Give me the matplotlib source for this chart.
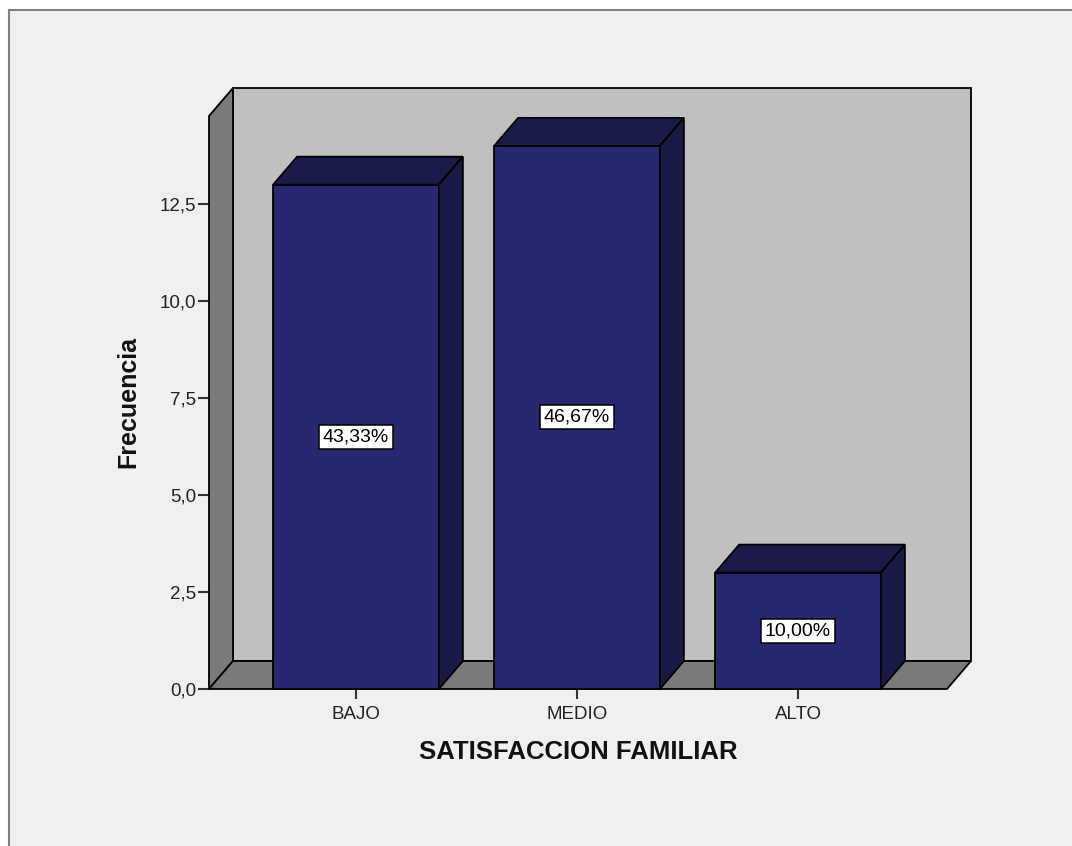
import matplotlib
matplotlib.use("Agg")
import matplotlib.pyplot as plt
from matplotlib.patches import Polygon, Rectangle

# ---- data ----
categories = ['BAJO', 'MEDIO', 'ALTO']
frecuencia = [13, 14, 3]
porcentajes = ['43,33%', '46,67%', '10,00%']
yticks = [0, 2.5, 5, 7.5, 10, 12.5]
ytick_labels = ['0,0', '2,5', '5,0', '7,5', '10,0', '12,5']
xlabel = 'SATISFACCION FAMILIAR'
ylabel = 'Frecuencia'

plt.rcParams['font.family'] = ['Liberation Sans', 'DejaVu Sans']

W, H = 1072, 846
fig = plt.figure(figsize=(W / 100, H / 100), dpi=100)
fig.patch.set_facecolor('white')
fig.patches.append(Rectangle((9 / W, -0.05), 1.2, (H - 10) / H + 0.05,
                             transform=fig.transFigure, facecolor='#F0F0F0',
                             edgecolor='#808080', lw=1.5, zorder=-10))

ax = fig.add_axes([209 / W, (H - 689) / H, 738 / W, 573 / H])
ax.set_zorder(5)
xmin, xmax = -0.665, 2.674
ymax = 14.77
ax.set_xlim(xmin, xmax)
ax.set_ylim(0, ymax)
ax.patch.set_visible(False)
for s in ax.spines.values():
    s.set_visible(False)

# depth offset (pixels) converted to data units
DX_PX, DY_PX = 24, 28
fig.canvas.draw()
inv = ax.transData.inverted()
o = inv.transform(ax.transData.transform((0, 0)))
p = inv.transform(ax.transData.transform((0, 0)) + [DX_PX, DY_PX])
ddx, ddy = p[0] - o[0], p[1] - o[1]

EC = 'black'
LW = 1.3
wall_back = '#C0C0C0'
wall_side = '#7A7A7A'
bar_front = '#272870'
bar_top = '#1B1B4A'
bar_side = '#1A1A47'

def poly(pts, fc, z):
    ax.add_patch(Polygon(pts, closed=True, facecolor=fc, edgecolor=EC,
                         lw=LW, clip_on=False, zorder=z, joinstyle='miter'))

# back wall
poly([(xmin + ddx, ddy), (xmax + ddx, ddy), (xmax + ddx, ymax + ddy),
      (xmin + ddx, ymax + ddy)], wall_back, 1)
# left wall
poly([(xmin, 0), (xmin + ddx, ddy), (xmin + ddx, ymax + ddy), (xmin, ymax)],
     wall_side, 2)
# floor
poly([(xmin, 0), (xmax, 0), (xmax + ddx, ddy), (xmin + ddx, ddy)],
     wall_side, 2)

bw = 0.75
for i, (v, pct) in enumerate(zip(frecuencia, porcentajes)):
    l, r = i - bw / 2, i + bw / 2
    poly([(l, 0), (r, 0), (r, v), (l, v)], bar_front, 3)
    poly([(l, v), (r, v), (r + ddx, v + ddy), (l + ddx, v + ddy)], bar_top, 3)
    poly([(r, 0), (r + ddx, ddy), (r + ddx, v + ddy), (r, v)], bar_side, 3)
    ax.text(i, v / 2, pct, ha='center', va='center', fontsize=14,
            zorder=5,
            bbox=dict(facecolor='white', edgecolor='black', lw=1.1,
                      boxstyle='square,pad=0.18'))

ax.set_yticks(yticks)
ax.set_yticklabels(ytick_labels)
ax.set_xticks(range(len(categories)))
ax.set_xticklabels(categories)
ax.tick_params(axis='y', length=8, width=1.5, pad=1, labelsize=13.5,
               color='#333333', labelcolor='#222222')
ax.tick_params(axis='x', length=7, width=1.5, pad=5, labelsize=13.5,
               color='#333333', labelcolor='#222222')

fig.text(578 / W, 1 - 752 / H, xlabel, ha='center', va='center',
         fontsize=18.5, fontweight='bold', color='#111111')
fig.text(128 / W, 1 - 402 / H, ylabel, ha='center', va='center',
         rotation=90, fontsize=18, fontweight='bold', color='#111111')

fig.savefig('out.png', dpi=100, facecolor=fig.get_facecolor())
